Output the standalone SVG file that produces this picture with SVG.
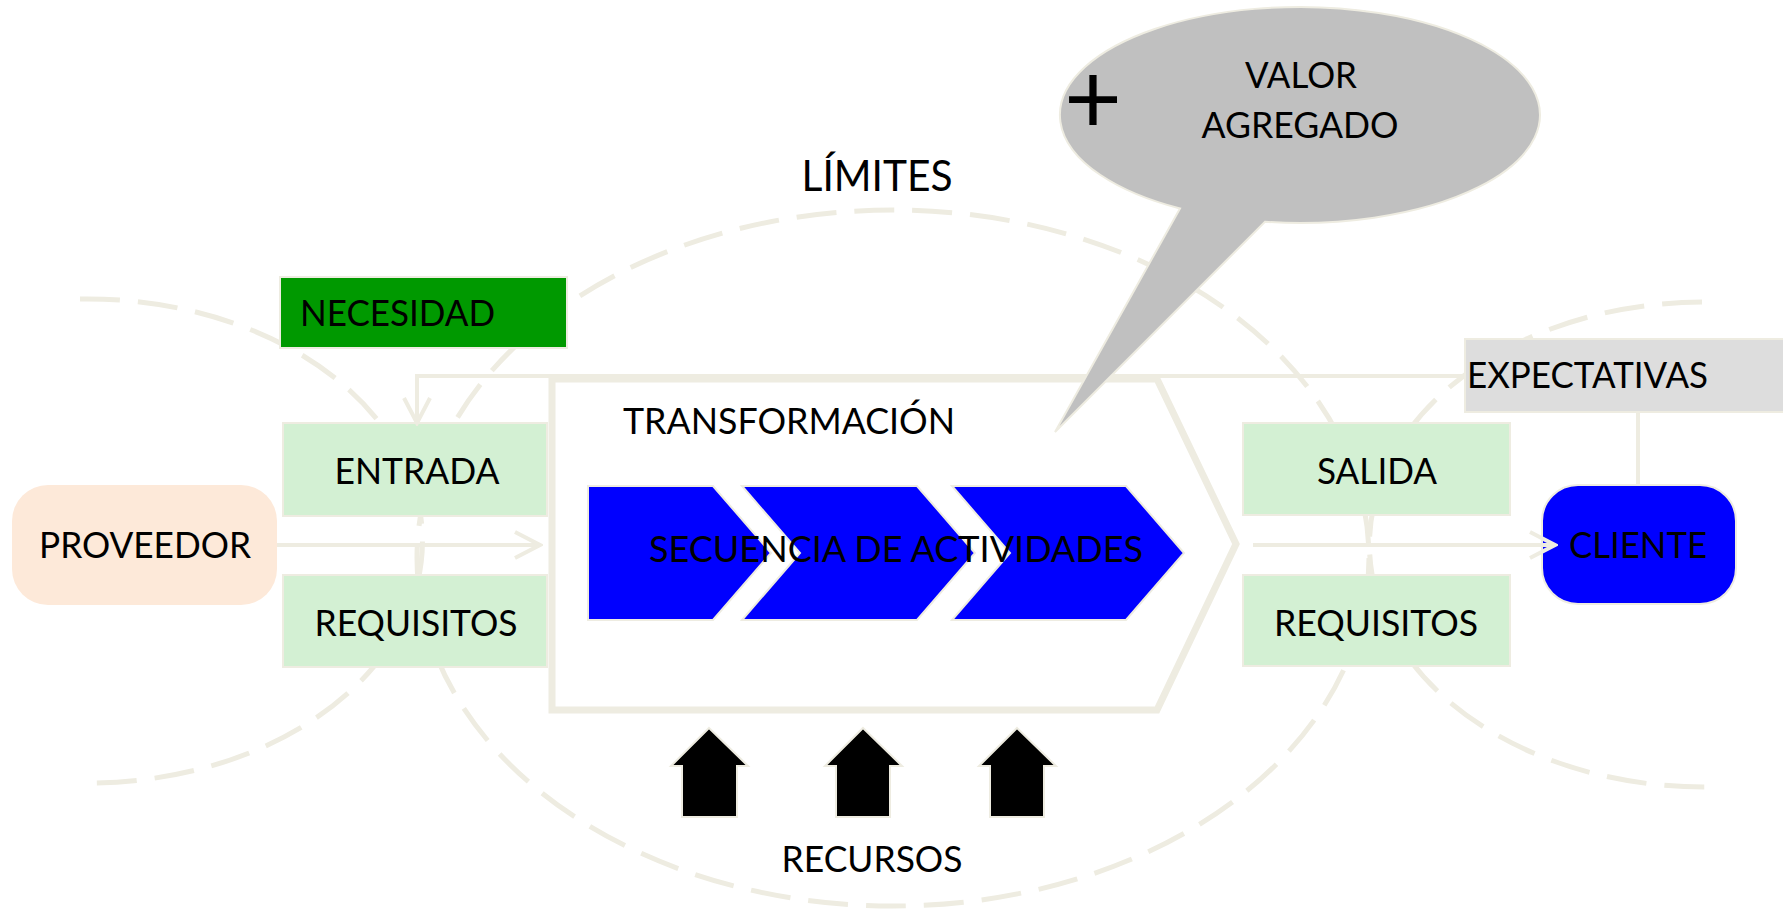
<svg xmlns="http://www.w3.org/2000/svg" width="1783" height="911" viewBox="0 0 1783 911">
<style>
.t{font-family:Lato,"Open Sans",sans-serif;font-size:37px;fill:#000}
.dash{fill:none;stroke:#EEECE1;stroke-width:5;stroke-dasharray:40 18}
.box{fill:#d3f0d3;stroke:#EEECE1;stroke-width:2}
.conn{fill:none;stroke:#EEECE1;stroke-width:4}
.chev{fill:#0000ff;stroke:#EEECE1;stroke-width:2}
.up{fill:#000;stroke:#EEECE1;stroke-width:2}
</style>
<defs>
<marker id="ah" markerUnits="userSpaceOnUse" viewBox="0 0 30 30" markerWidth="30" markerHeight="30" refX="27" refY="15" orient="auto">
<path d="M2,2 L27,15 L2,28" fill="none" stroke="#EEECE1" stroke-width="4"/>
</marker>
</defs>
<rect width="1783" height="911" fill="#fff"/>
<g id="limites-curves">
<path class="dash" d="M80,299 A335,242 0 0 1 95,783"/>
<ellipse class="dash" cx="893" cy="558" rx="476" ry="348"/>
<path class="dash" d="M1702,302 A334,242 0 0 0 1706,787"/>
</g>
<g id="transformacion">
<path d="M552,379 L1157,379 L1236,544 L1157,710 L552,710 Z" fill="#fff" stroke="#EEECE1" stroke-width="7"/>
<text class="t" x="623" y="434" textLength="332" lengthAdjust="spacingAndGlyphs">TRANSFORMACIÓN</text>
</g>
<g id="secuencia">
<path class="chev" d="M588,486 L713,486 L771,553 L713,620 L588,620 Z"/>
<path class="chev" d="M742,486 L917,486 L975,553 L917,620 L742,620 L800,553 Z"/>
<path class="chev" d="M952,486 L1126,486 L1184,553 L1126,620 L952,620 L1010,553 Z"/>
<text class="t" x="649" y="562" textLength="494" lengthAdjust="spacingAndGlyphs">SECUENCIA DE ACTIVIDADES</text>
</g>
<g id="proveedor">
<rect x="12" y="485" width="265" height="120" rx="36" fill="#fde9d9"/>
<text class="t" x="145" y="558" text-anchor="middle" textLength="212" lengthAdjust="spacingAndGlyphs">PROVEEDOR</text>
</g>
<g id="necesidad">
<rect x="280" y="277" width="287" height="71" fill="#009900" stroke="#EEECE1" stroke-width="2"/>
<text class="t" x="300" y="326" textLength="195" lengthAdjust="spacingAndGlyphs">NECESIDAD</text>
</g>
<g id="entrada">
<rect class="box" x="283" y="423" width="264" height="93"/>
<text class="t" x="417" y="484" text-anchor="middle" textLength="165" lengthAdjust="spacingAndGlyphs">ENTRADA</text>
</g>
<g id="requisitos-entrada">
<rect class="box" x="283" y="575" width="264" height="92"/>
<text class="t" x="416" y="636" text-anchor="middle" textLength="203" lengthAdjust="spacingAndGlyphs">REQUISITOS</text>
</g>
<g id="salida">
<rect class="box" x="1243" y="423" width="267" height="92"/>
<text class="t" x="1377" y="484" text-anchor="middle" textLength="120" lengthAdjust="spacingAndGlyphs">SALIDA</text>
</g>
<g id="requisitos-salida">
<rect class="box" x="1243" y="575" width="267" height="91"/>
<text class="t" x="1376" y="636" text-anchor="middle" textLength="204" lengthAdjust="spacingAndGlyphs">REQUISITOS</text>
</g>
<g id="expectativas">
<rect x="1465" y="339" width="330" height="73" fill="#dddddd" stroke="#EEECE1" stroke-width="2"/>
<text class="t" x="1467" y="388" textLength="241" lengthAdjust="spacingAndGlyphs">EXPECTATIVAS</text>
</g>
<g id="cliente">
<rect x="1542" y="485" width="194" height="119" rx="36" fill="#0000ff" stroke="#EEECE1" stroke-width="2"/>
<text class="t" x="1638" y="558" text-anchor="middle" textLength="138" lengthAdjust="spacingAndGlyphs">CLIENTE</text>
</g>
<g id="connectors">
<path class="conn" d="M1465,376 H417 V423" marker-end="url(#ah)"/>
<path class="conn" d="M1638,412 V485"/>
<path class="conn" d="M277,545 H540" marker-end="url(#ah)"/>
<path class="conn" d="M1253,545 H1555" marker-end="url(#ah)"/>
</g>
<g id="recursos">
<path class="up" d="M709,728 L748,766 L737,766 L737,817 L682,817 L682,766 L671,766 Z"/>
<path class="up" d="M863,728 L902,766 L890,766 L890,817 L836,817 L836,766 L825,766 Z"/>
<path class="up" d="M1017,728 L1056,766 L1044,766 L1044,817 L990,817 L990,766 L979,766 Z"/>
<text class="t" x="872" y="872" text-anchor="middle" textLength="181" lengthAdjust="spacingAndGlyphs">RECURSOS</text>
</g>
<g id="limites-label">
<text class="t" x="877" y="191" text-anchor="middle" style="font-size:42px" textLength="151" lengthAdjust="spacingAndGlyphs">LÍMITES</text>
</g>
<g id="valor-agregado">
<path d="M1180,208.5 L1055,432 L1265,221.8 A240,108 0 1 0 1180,208.5 Z" fill="#c0c0c0" stroke="#EEECE1" stroke-width="2"/>
<text class="t" x="1301" y="88" text-anchor="middle" textLength="112" lengthAdjust="spacingAndGlyphs">VALOR</text>
<text class="t" x="1300" y="138" text-anchor="middle" textLength="197" lengthAdjust="spacingAndGlyphs">AGREGADO</text>
<text class="t" x="1093" y="134" text-anchor="middle" style="font-size:100px">+</text>
</g>
</svg>
